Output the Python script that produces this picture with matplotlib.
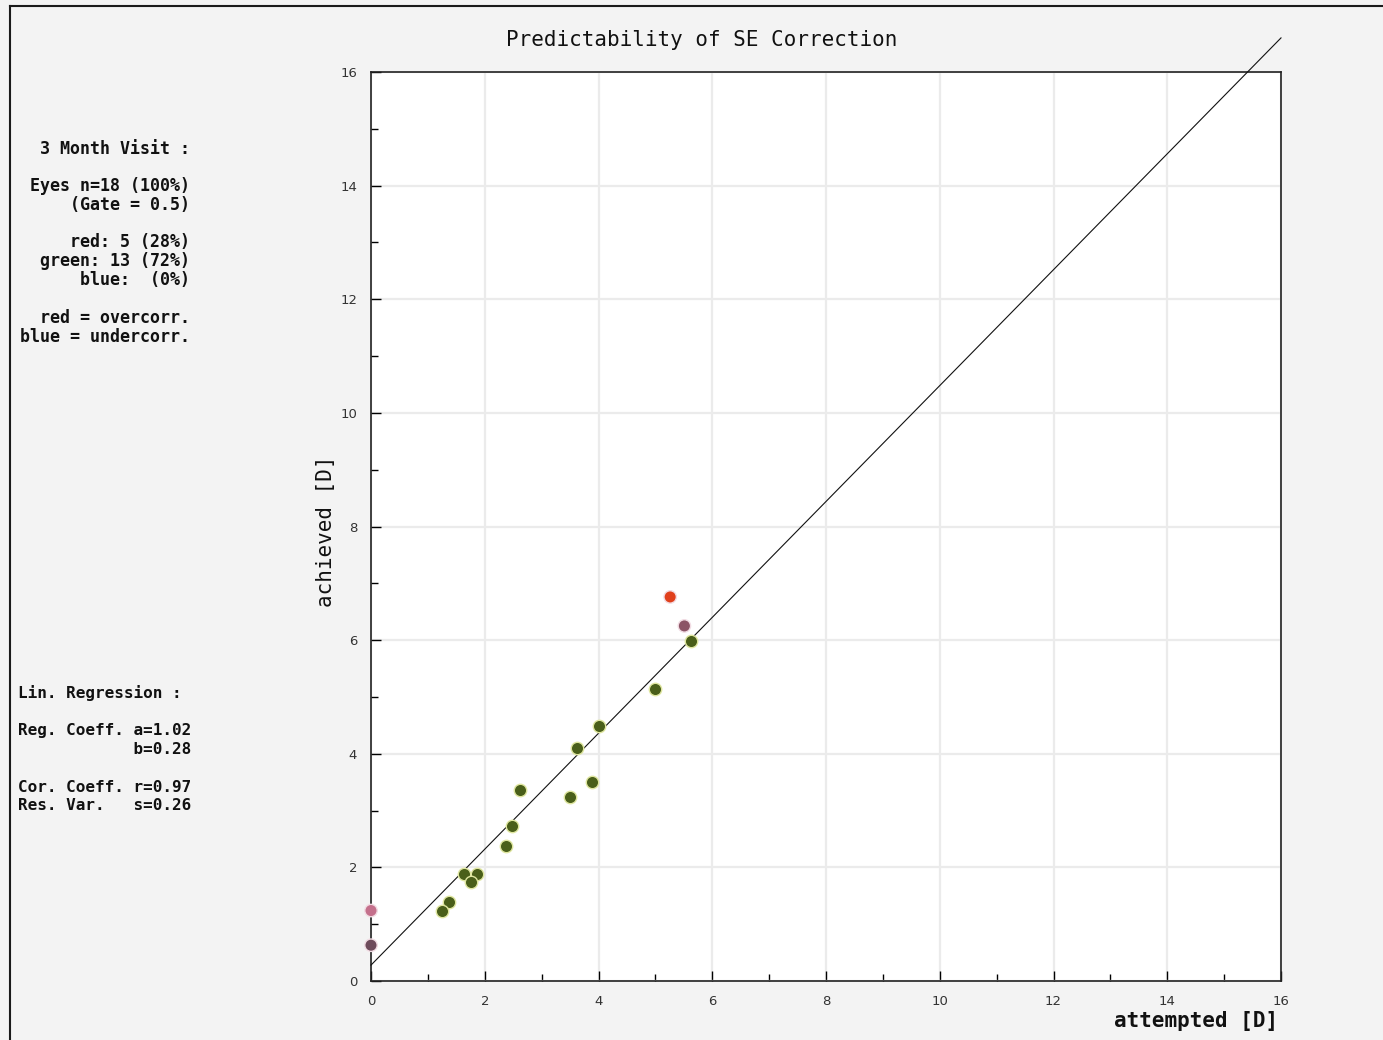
import matplotlib
matplotlib.use("Agg")
import matplotlib.pyplot as plt
from matplotlib.lines import Line2D
from matplotlib.ticker import MultipleLocator
import numpy as np

# Attempted vs. achieved spherical-equivalent correction [D]
green_x = [5.62, 5.00, 4.01, 3.63, 3.89, 3.50, 2.62, 2.48, 2.38, 1.63, 1.87, 1.75, 1.37, 1.24]
green_y = [5.99, 5.14, 4.49, 4.11, 3.51, 3.24, 3.37, 2.73, 2.38, 1.88, 1.88, 1.75, 1.39, 1.24]
over_x = [5.26, 5.51, 0.0, 0.0]
over_y = [6.76, 6.25, 1.24, 0.63]
over_colors = ["#e0401c", "#8c5466", "#c4708c", "#6e4c5c"]

# Linear regression y = a*x + b
reg_a = 1.02
reg_b = 0.28

title = "Predictability of SE Correction"
x_label = "attempted [D]"
y_label = "achieved [D]"

info_lines = [
    ("3 Month Visit :", 149),
    ("Eyes n=18 (100%)", 186),
    ("(Gate = 0.5)", 205),
    ("red: 5 (28%)", 242),
    ("green: 13 (72%)", 261),
    ("blue:  (0%)", 280),
    ("red = overcorr.", 318),
    ("blue = undercorr.", 337),
]
reg_lines = [
    ("Lin. Regression :", 693),
    ("Reg. Coeff. a=1.02", 731),
    ("            b=0.28", 749),
    ("Cor. Coeff. r=0.97", 787),
    ("Res. Var.   s=0.26", 806),
]

W, H = 1383, 1040
fig = plt.figure(figsize=(W / 100, H / 100), dpi=100, facecolor="#f3f3f3")

left, right, bottom, top = 371 / W, 1281 / W, (H - 981) / H, (H - 72) / H
ax = fig.add_axes([left, bottom, right - left, top - bottom])
ax.set_facecolor("white")
ax.set_xlim(0, 16)
ax.set_ylim(0, 16)

ax.xaxis.set_major_locator(MultipleLocator(2))
ax.yaxis.set_major_locator(MultipleLocator(2))
ax.xaxis.set_minor_locator(MultipleLocator(1))
ax.yaxis.set_minor_locator(MultipleLocator(1))
ax.grid(True, which="major", color="#ebebeb", linewidth=1.6, zorder=0)
ax.set_axisbelow(True)
ax.tick_params(which="both", direction="in", top=False, right=False,
               labelsize=9.5, labelcolor="#333333", width=1)
ax.tick_params(which="major", length=7, pad=10)
ax.tick_params(which="minor", length=5)
for s in ax.spines.values():
    s.set_color("#222222")
    s.set_linewidth(1.2)

# regression line, extended past the top of the axes
xx = np.array([0, 16])
ax.plot(xx, reg_a * xx + reg_b, color="#111111", linewidth=0.8, clip_on=False, zorder=3)

ax.scatter(green_x, green_y, s=80, color="#4a5f1a", edgecolors="#dfe6a0",
           linewidths=1.0, zorder=4, clip_on=False)
ax.scatter(over_x, over_y, s=80, color=over_colors, edgecolors="#f2dde4",
           linewidths=1.0, zorder=4, clip_on=False)

fig.text(702 / W, 1 - 40 / H, title, family="DejaVu Sans Mono", fontsize=15,
         ha="center", va="center", color="#111111")
fig.text(1278 / W, 1 - 1021 / H, x_label, family="DejaVu Sans Mono", fontsize=15,
         fontweight="bold", ha="right", va="center", color="#111111")
fig.text(326 / W, 1 - 531 / H, y_label, family="DejaVu Sans Mono", fontsize=15,
         rotation=90, ha="center", va="center", color="#111111")

for txt, y in info_lines:
    fig.text(190 / W, 1 - y / H, txt, family="DejaVu Sans Mono", fontsize=12,
             fontweight="bold", ha="right", va="center", color="#111111")
for txt, y in reg_lines:
    fig.text(18 / W, 1 - y / H, txt, family="DejaVu Sans Mono", fontsize=11.5,
             fontweight="bold", ha="left", va="center", color="#111111")

# window frame along the left and top edges
fig.add_artist(Line2D([9.5 / W, 9.5 / W], [0, 1 - 6 / H], color="#1a1a1a",
                      linewidth=1.5, transform=fig.transFigure))
fig.add_artist(Line2D([9.5 / W, 1], [1 - 6 / H, 1 - 6 / H], color="#1a1a1a",
                      linewidth=1.5, transform=fig.transFigure))

fig.savefig("out.png", dpi=100, facecolor=fig.get_facecolor())
